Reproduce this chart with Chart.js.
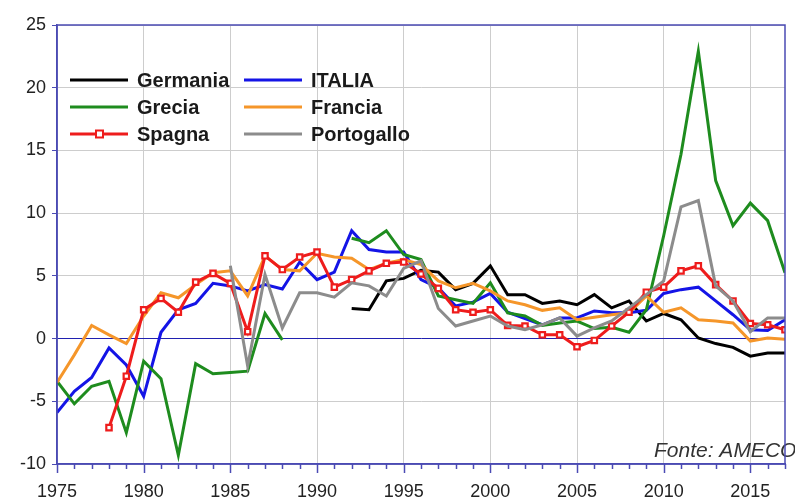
<!DOCTYPE html>
<html><head><meta charset="utf-8">
<script src="https://cdn.jsdelivr.net/npm/chart.js@4.4.1/dist/chart.umd.min.js"></script>
<style>html,body{margin:0;padding:0;background:#fff;} #wrap{width:795px;height:501px;}</style>
</head><body><div id="wrap"><canvas id="c" width="795" height="501"></canvas></div>
<script>
const years = [1975,1976,1977,1978,1979,1980,1981,1982,1983,1984,1985,1986,1987,1988,1989,1990,1991,1992,1993,1994,1995,1996,1997,1998,1999,2000,2001,2002,2003,2004,2005,2006,2007,2008,2009,2010,2011,2012,2013,2014,2015,2016,2017];
const seriesNames = ["Germania","ITALIA","Grecia","Francia","Spagna","Portogallo"];
const germania = [null,null,null,null,null,null,null,null,null,null,null,null,null,null,null,null,null,
  2.4,2.3,4.6,4.8,5.45,5.3,3.9,4.4,5.8,3.5,3.5,2.8,3.0,2.7,3.5,2.45,3.0,1.4,2.0,1.5,0.05,-0.4,-0.7,-1.4,-1.15,-1.15];
const italia = [-5.9,-4.2,-3.1,-0.75,-2.1,-4.6,0.5,2.3,2.8,4.4,
  4.2,3.8,4.3,3.95,6.1,4.7,5.3,8.6,7.1,6.9,
  6.9,4.7,4.05,2.6,2.9,3.6,2.1,1.6,1.1,1.65,
  1.65,2.2,2.05,2.05,2.25,3.6,3.9,4.1,3.0,1.9,
  0.7,0.65,1.5];
const grecia = [-3.4,-5.2,-3.8,-3.4,-7.5,-1.8,-3.2,-9.3,-2.0,-2.8,
  -2.7,-2.6,2.0,-0.1,null,null,null,8.0,7.65,8.6,
  6.7,6.3,3.4,3.1,2.8,4.45,2.05,1.8,1.05,1.25,
  1.4,0.8,0.9,0.5,2.3,8.2,14.7,22.9,12.6,9.0,
  10.8,9.4,5.25];
const francia = [-3.5,-1.3,1.05,0.3,-0.4,1.8,3.65,3.25,4.3,5.25,
  5.4,3.4,6.6,5.5,5.4,6.8,6.5,6.4,5.5,6.0,
  6.3,5.9,4.6,4.05,4.4,3.8,3.0,2.7,2.25,2.45,
  1.5,1.7,1.9,2.05,3.4,2.1,2.45,1.5,1.4,1.25,
  -0.2,0.05,-0.05];
const spagna = [null,null,null,-7.1,-3.0,2.3,3.2,2.1,4.5,5.2,
  4.4,0.55,6.6,5.5,6.5,6.9,4.1,4.7,5.4,6.0,
  6.1,5.15,4.0,2.3,2.1,2.3,1.05,1.0,0.3,0.3,
  -0.65,-0.15,1.0,2.1,3.7,4.1,5.4,5.8,4.3,3.0,
  1.2,1.1,0.7];
const portogallo = [null,null,null,null,null,null,null,null,null,null,
  5.8,-2.2,5.1,0.85,3.65,3.65,3.3,4.45,4.2,3.4,
  5.6,6.2,2.4,1.0,1.4,1.8,1.0,0.7,1.1,1.65,
  0.2,0.85,1.4,2.45,3.5,4.6,10.5,11.0,4.2,3.0,
  0.55,1.65,1.65];
const yTicks = [-10,-5,0,5,10,15,20,25];
const xTickLabels = [1975,1980,1985,1990,1995,2000,2005,2010,2015];
const sourceNote = "Fonte: AMECO";

const colors = ["#000000","#1414e6","#1e8c1e","#f5962a","#ee1c1c","#8c8c8c"];
const allSeries = [germania, italia, grecia, francia, spagna, portogallo];
const FRAME = "#4b4bb4";
const FONT = "'Liberation Sans', Arial, sans-serif";

const datasets = allSeries.map((vals, k) => ({
  label: seriesNames[k],
  data: years.map((y, i) => ({x: y, y: vals[i]})),
  borderColor: colors[k],
  backgroundColor: colors[k],
  borderWidth: 3,
  tension: 0,
  spanGaps: false,
  order: 6 - k,
  pointRadius: k === 4 ? 3.8 : 0,
  pointStyle: 'rect',
  pointBorderWidth: 2.2,
  pointBackgroundColor: '#ffffff',
  pointBorderColor: colors[k],
  fill: false
}));

const decorPlugin = {
  id: 'decor',
  afterDatasetsDraw(chart) {
    const ctx = chart.ctx, a = chart.chartArea, xs = chart.scales.x;
    ctx.save();
    ctx.font = "italic 21px " + FONT;
    ctx.fillStyle = "#333333";
    ctx.textBaseline = "alphabetic";
    ctx.textAlign = "left";
    ctx.fillText(sourceNote, 654, 457);
    ctx.strokeStyle = FRAME;
    ctx.lineWidth = 1.5;
    ctx.beginPath();
    ctx.moveTo(a.left, a.bottom); ctx.lineTo(a.left, a.top); ctx.lineTo(a.right, a.top); ctx.lineTo(a.right, a.bottom); ctx.lineTo(a.left, a.bottom);
    ctx.stroke();
    years.forEach(y => {
      const px = Math.round(xs.getPixelForValue(y)) + 0.5;
      const len = (y % 5 === 0) ? 9 : 5;
      ctx.beginPath(); ctx.moveTo(px, a.bottom); ctx.lineTo(px, a.bottom + len); ctx.stroke();
    });
    const cols = [{lx: 70, tx: 137}, {lx: 244, tx: 311}];
    const rows = [80, 107, 134];
    ctx.font = "bold 20px " + FONT;
    ctx.textBaseline = "middle";
    chart.data.datasets.forEach((ds, i) => {
      const c = cols[i % 2], r = rows[Math.floor(i / 2)];
      ctx.strokeStyle = ds.borderColor; ctx.lineWidth = 3;
      ctx.beginPath(); ctx.moveTo(c.lx, r); ctx.lineTo(c.lx + 58, r); ctx.stroke();
      if (ds.pointRadius > 0) {
        ctx.fillStyle = '#fff'; ctx.lineWidth = 2;
        ctx.fillRect(c.lx + 26, r - 3.5, 7, 7);
        ctx.strokeRect(c.lx + 26, r - 3.5, 7, 7);
      }
      ctx.fillStyle = "#1a1a1a";
      ctx.fillText(ds.label, c.tx, r + 1);
    });
    ctx.restore();
  }
};

new Chart(document.getElementById('c'), {
  type: 'line',
  data: { datasets },
  options: {
    responsive: false, animation: false, devicePixelRatio: 1,
    layout: { padding: { top: 25, right: 10, left: 0, bottom: 0 } },
    plugins: { legend: { display: false }, tooltip: { enabled: false } },
    scales: {
      x: {
        type: 'linear', min: 1975, max: 2017,
        afterFit: s => { s.height = 37; },
        afterBuildTicks: s => { s.ticks = years.map(v => ({value: v})); },
        ticks: {
          autoSkip: false, maxRotation: 0, padding: 4,
          callback: v => xTickLabels.includes(v) ? String(v) : '',
          font: { family: FONT, size: 18 }, color: '#222'
        },
        grid: {
          drawTicks: true, tickLength: 13, tickColor: 'rgba(0,0,0,0)', lineWidth: 1,
          color: c => (c.tick && c.tick.value % 5 === 0) ? '#cdcdcd' : 'rgba(0,0,0,0)'
        },
        border: { display: true, color: FRAME, width: 1.5 }
      },
      y: {
        min: -10, max: 25,
        afterFit: s => { s.width = 57; },
        afterBuildTicks: s => { s.ticks = yTicks.map(v => ({value: v})); },
        ticks: { padding: 6, font: { family: FONT, size: 18 }, color: '#222' },
        grid: {
          drawTicks: true, tickLength: 5, tickColor: FRAME, lineWidth: 1,
          color: c => (c.tick && c.tick.value === 0) ? '#2020b0' : '#cdcdcd'
        },
        border: { display: true, color: FRAME, width: 1.5 }
      }
    }
  },
  plugins: [decorPlugin]
});
</script>
</body></html>
